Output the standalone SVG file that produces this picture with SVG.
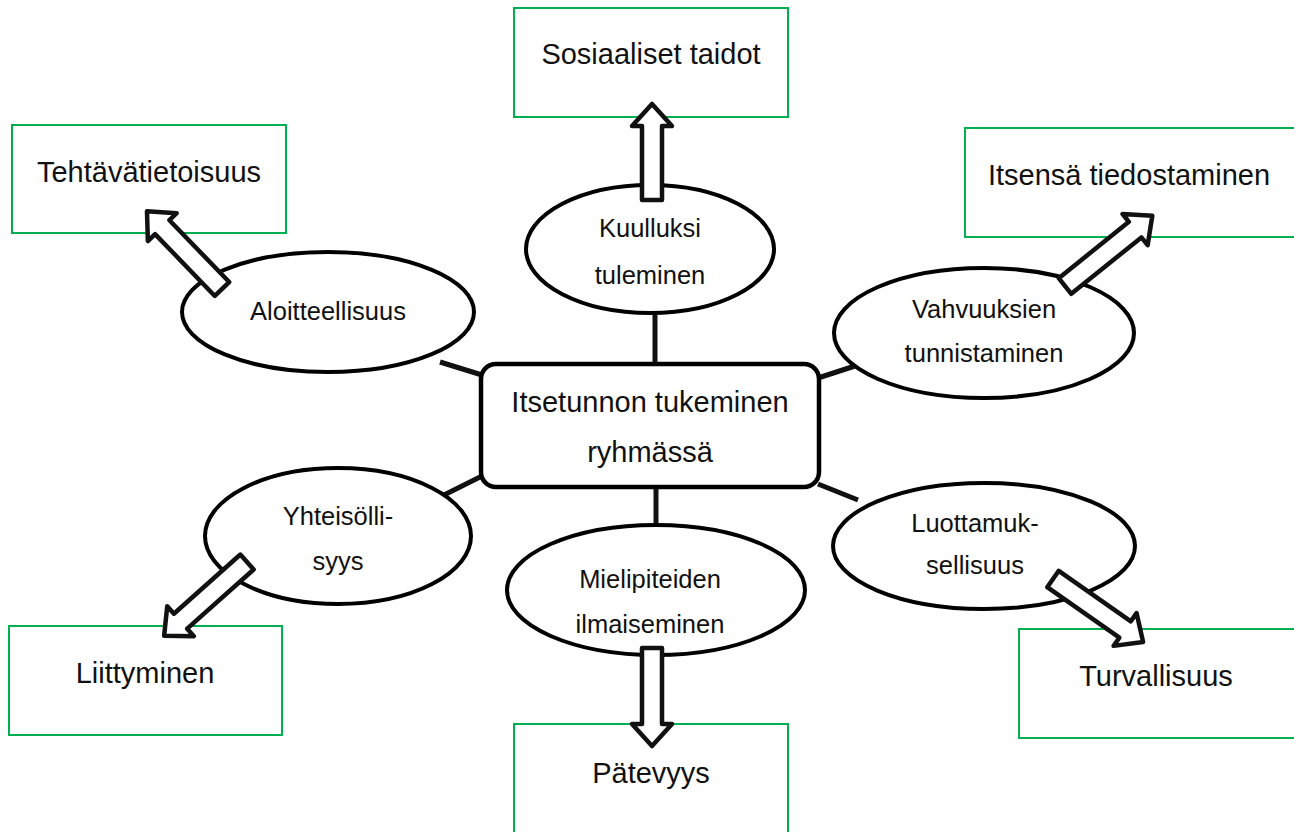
<svg xmlns="http://www.w3.org/2000/svg" width="1294" height="832" viewBox="0 0 1294 832">
<style>
.box{fill:#fff;stroke:#00b050;stroke-width:2}
.ell{fill:#fff;stroke:#000;stroke-width:4}
.ctr{fill:#fff;stroke:#000;stroke-width:4.5}
.con{stroke:#111;stroke-width:5;fill:none}
.arr{fill:#fff;stroke:#111;stroke-width:4.5;stroke-linejoin:round}
.t1{font-family:"Liberation Sans",Arial,sans-serif;font-size:29px;fill:#111;text-anchor:middle}
.t2{font-family:"Liberation Sans",Arial,sans-serif;font-size:25.5px;fill:#111;text-anchor:middle}
</style>
<rect width="1294" height="832" fill="#fff"/>
<g id="connectors">
<line class="con" x1="655" y1="313" x2="655" y2="365"/>
<line class="con" x1="440" y1="362" x2="482" y2="375"/>
<line class="con" x1="818" y1="378" x2="858" y2="365"/>
<line class="con" x1="440" y1="497" x2="482" y2="476"/>
<line class="con" x1="818" y1="484" x2="858" y2="500"/>
<line class="con" x1="656" y1="486" x2="656" y2="526"/>
</g>
<g id="box-sosiaaliset"><rect class="box" x="514" y="8" width="274" height="109"/><text class="t1" x="651" y="64">Sosiaaliset taidot</text></g>
<g id="box-tehtava"><rect class="box" x="12" y="125" width="274" height="108"/><text class="t1" x="149" y="182">Tehtävätietoisuus</text></g>
<g id="box-itsensa"><rect class="box" x="965" y="128" width="330" height="109"/><text class="t1" x="1129" y="185">Itsensä tiedostaminen</text></g>
<g id="box-liittyminen"><rect class="box" x="9" y="626" width="273" height="109"/><text class="t1" x="145" y="683">Liittyminen</text></g>
<g id="box-patevyys"><rect class="box" x="514" y="724" width="274" height="120"/><text class="t1" x="651" y="783">Pätevyys</text></g>
<g id="box-turvallisuus"><rect class="box" x="1019" y="629" width="276" height="109"/><text class="t1" x="1156" y="686">Turvallisuus</text></g>
<g id="center"><rect class="ctr" x="481" y="364" width="338" height="123" rx="15"/><text class="t1" x="650" y="412">Itsetunnon tukeminen</text><text class="t1" x="650" y="462">ryhmässä</text></g>
<g id="n-kuulluksi"><ellipse class="ell" cx="650" cy="249" rx="124" ry="64"/><text class="t2" x="650" y="237">Kuulluksi</text><text class="t2" x="650" y="284">tuleminen</text></g>
<g id="n-aloitteellisuus"><ellipse class="ell" cx="328" cy="312" rx="146" ry="60"/><text class="t2" x="328" y="320">Aloitteellisuus</text></g>
<g id="n-vahvuuksien"><ellipse class="ell" cx="984" cy="333" rx="150" ry="65"/><text class="t2" x="984" y="318">Vahvuuksien</text><text class="t2" x="984" y="362">tunnistaminen</text></g>
<g id="n-yhteisollisyys"><ellipse class="ell" cx="338" cy="536" rx="133" ry="68"/><text class="t2" x="338" y="525">Yhteisölli-</text><text class="t2" x="338" y="570">syys</text></g>
<g id="n-mielipiteiden"><ellipse class="ell" cx="656" cy="590" rx="149" ry="65"/><text class="t2" x="650" y="588">Mielipiteiden</text><text class="t2" x="650" y="633">ilmaiseminen</text></g>
<g id="n-luottamuksellisuus"><ellipse class="ell" cx="984" cy="546" rx="151" ry="63"/><text class="t2" x="975" y="532">Luottamuk-</text><text class="t2" x="975" y="574">sellisuus</text></g>
<g id="arrows">
<path class="arr" transform="translate(652,200) rotate(-90)" d="M0,-10 L74,-10 L74,-20 L96,0 L74,20 L74,10 L0,10 Z"/>
<path class="arr" transform="translate(652,648) rotate(90)" d="M0,-10 L76,-10 L76,-20 L98,0 L76,20 L76,10 L0,10 Z"/>
<path class="arr" transform="translate(222,289) rotate(-134)" d="M0,-10 L86,-10 L86,-20 L108,0 L86,20 L86,10 L0,10 Z"/>
<path class="arr" transform="translate(1065,286) rotate(-38.8)" d="M0,-10 L90,-10 L90,-20 L112,0 L90,20 L90,10 L0,10 Z"/>
<path class="arr" transform="translate(247,562) rotate(138.3)" d="M0,-10 L89,-10 L89,-20 L111,0 L89,20 L89,10 L0,10 Z"/>
<path class="arr" transform="translate(1053,579) rotate(35)" d="M0,-10 L88,-10 L88,-20 L110,0 L88,20 L88,10 L0,10 Z"/>
</g>
</svg>
